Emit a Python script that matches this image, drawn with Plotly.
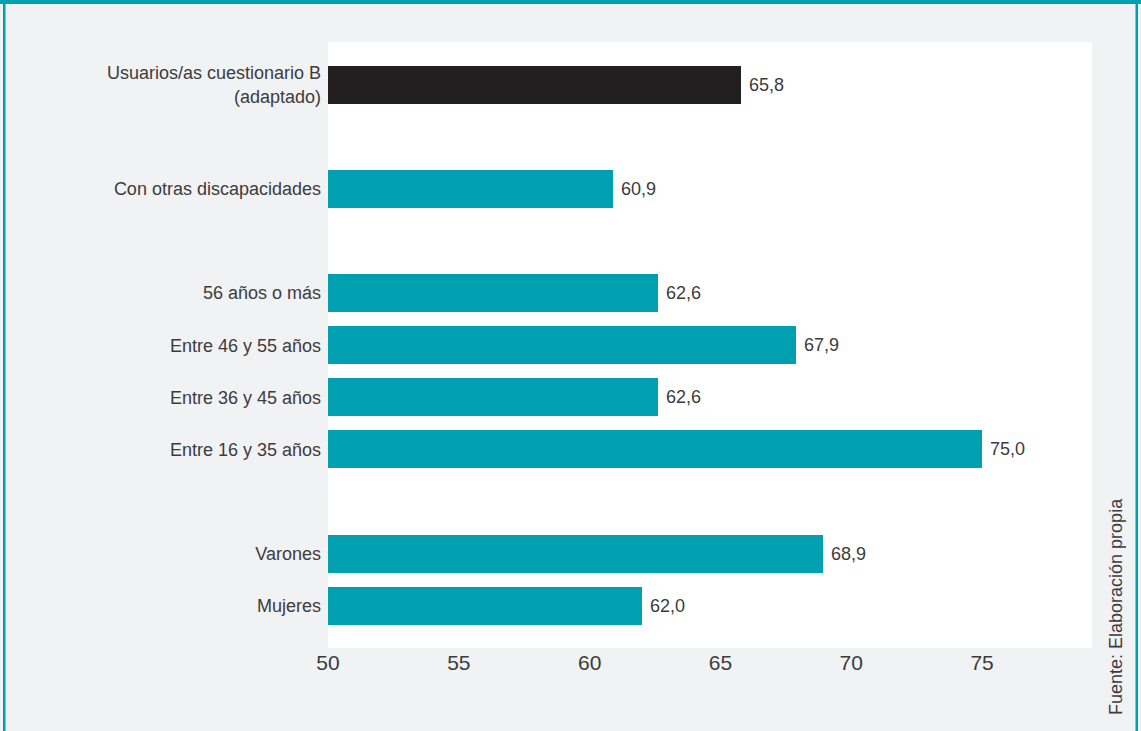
import plotly.graph_objects as go

# ---- data ----
groups = [
    ["Mujeres", "Varones"],
    ["Entre 16 y 35 años", "Entre 36 y 45 años", "Entre 46 y 55 años", "56 años o más"],
    ["Con otras discapacidades"],
    ["Usuarios/as cuestionario B<br>(adaptado)"],
]
group_values = [
    [62.0, 68.9],
    [75.0, 62.6, 67.9, 62.6],
    [60.9],
    [65.8],
]
x_ticks = [50, 55, 60, 65, 70, 75]
source_text = "Fuente: Elaboración propia"

# ---- styling ----
TEAL = "#00A0B0"
DARK = "#231F20"
BG = "#F1F2F4"
TXT = "#3C3C3C"
FONT = "Liberation Sans, Arial, sans-serif"

W, H = 1141, 731
L, R, T, B = 328, 49, 42, 83

cats, vals, pos = [], [], []
p = 0
for gi, (g, v) in enumerate(zip(groups, group_values)):
    for c, val in zip(g, v):
        cats.append(c)
        vals.append(val)
        pos.append(p)
        p += 1
    p += 1
colors = [TEAL] * (len(cats) - 1) + [DARK]

fig = go.Figure(go.Bar(
    x=vals, y=pos, orientation="h", base=0,
    marker=dict(color=colors, line=dict(width=0)),
    width=0.73, hoverinfo="skip",
))

annotations = []
for v, yy in zip(vals, pos):
    annotations.append(dict(
        x=v, y=yy, xref="x", yref="y", text=f"{v:.1f}".replace(".", ","),
        showarrow=False, xanchor="left", yanchor="middle", xshift=6,
        font=dict(family=FONT, size=18, color=TXT),
    ))

pw = W - L - R
ph = H - T - B
def px2x(px):
    return (px - L) / pw
def py2y(py):
    return (H - B - py) / ph

annotations.append(dict(
    x=px2x(1116), y=py2y(607), xref="paper", yref="paper", text=source_text,
    showarrow=False, textangle=-90, xanchor="center", yanchor="middle",
    font=dict(family=FONT, size=18, color=TXT),
))

shapes = [
    dict(type="rect", xref="paper", yref="paper", x0=px2x(0), x1=px2x(W), y0=py2y(0), y1=py2y(4),
         fillcolor=TEAL, line=dict(width=0), layer="above"),
    dict(type="rect", xref="paper", yref="paper", x0=px2x(3), x1=px2x(5.5), y0=py2y(0), y1=py2y(H),
         fillcolor=TEAL, line=dict(width=0), layer="above"),
    dict(type="rect", xref="paper", yref="paper", x0=px2x(1135.5), x1=px2x(1138), y0=py2y(0), y1=py2y(H),
         fillcolor=TEAL, line=dict(width=0), layer="above"),
]

fig.update_layout(
    width=W, height=H,
    margin=dict(l=L, r=R, t=T, b=B, autoexpand=False),
    paper_bgcolor=BG, plot_bgcolor="white",
    showlegend=False,
    bargap=0,
    font=dict(family=FONT, color=TXT),
    xaxis=dict(range=[50, 79.2], tickvals=x_ticks, ticktext=[str(t) for t in x_ticks],
               showgrid=False, zeroline=False, showline=False, ticks="",
               tickfont=dict(size=21, color=TXT, family=FONT), fixedrange=True),
    yaxis=dict(range=[-0.81, pos[-1] + 0.82], tickvals=pos, ticktext=cats,
               showgrid=False, zeroline=False, showline=False, ticks="",
               ticklabelstandoff=6,
               tickfont=dict(size=18, color=TXT, family=FONT), fixedrange=True),
    annotations=annotations,
    shapes=shapes,
)

fig.write_html("out.html")
